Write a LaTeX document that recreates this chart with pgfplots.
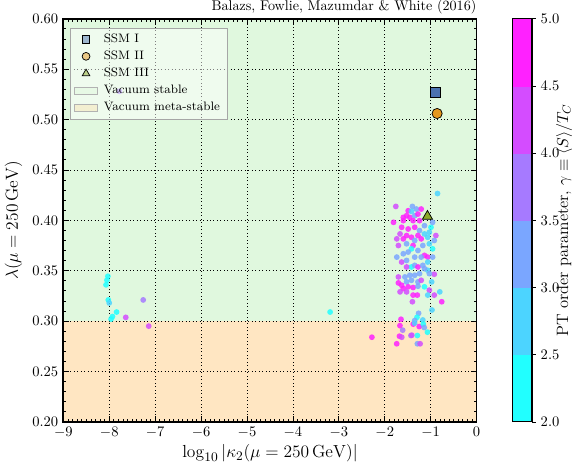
\documentclass[border=0pt]{standalone}
\usepackage{pgfplots}
\pgfplotsset{compat=1.18}
\usepackage{pgfplotstable}
\definecolor{vstable}{RGB}{224,248,222}
\definecolor{vmeta}{RGB}{255,230,194}
\definecolor{vmetaleg}{RGB}{248,228,182}
\definecolor{ssmone}{RGB}{76,114,176}
\definecolor{ssmtwo}{RGB}{228,150,30}
\definecolor{ssmthree}{RGB}{140,170,40}

\pgfplotstableread{
x y c
-0.851 0.4266 2.7
-1.759 0.4138 4.2
-1.398 0.4138 3.2
-1.312 0.4112 3.2
-1.206 0.4112 4.7
-1.490 0.4095 4.7
-1.419 0.4089 2.7
-1.596 0.4029 4.7
-1.525 0.4046 4.7
-1.454 0.4029 4.7
-1.348 0.4046 3.2
-1.277 0.4062 4.7
-1.809 0.3980 4.7
-1.596 0.3997 4.7
-1.383 0.3997 4.7
-1.242 0.3997 4.7
-1.135 0.3947 3.2
-0.993 0.3931 2.2
-0.958 0.3980 3.2
-1.632 0.3931 4.7
-1.490 0.3914 4.7
-1.348 0.3931 4.7
-1.242 0.3898 3.2
-0.887 0.3849 4.2
-1.667 0.3865 4.2
-1.525 0.3849 4.7
-1.419 0.3832 4.7
-1.277 0.3849 4.7
-1.135 0.3865 2.7
-1.029 0.3882 2.7
-0.922 0.3800 3.2
-1.738 0.3816 4.2
-1.596 0.3816 4.7
-1.348 0.3800 3.2
-1.206 0.3816 4.7
-1.064 0.3832 2.7
-1.703 0.3750 4.2
-1.525 0.3767 3.2
-1.383 0.3750 4.7
-1.171 0.3750 3.2
-1.029 0.3767 2.7
-0.958 0.3717 2.2
-1.419 0.3717 2.2
-1.596 0.3668 3.2
-1.490 0.3685 3.2
-1.277 0.3701 3.2
-1.135 0.3652 4.7
-1.064 0.3635 4.7
-0.958 0.3635 3.2
-1.738 0.3635 3.2
-1.632 0.3586 4.2
-1.525 0.3602 3.2
-1.348 0.3635 3.2
-1.206 0.3635 3.2
-1.419 0.3537 2.2
-1.348 0.3553 3.2
-1.277 0.3537 4.7
-1.171 0.3553 3.2
-1.064 0.3586 2.7
-1.525 0.3537 4.2
-1.064 0.3504 2.7
-1.135 0.3520 3.2
-0.922 0.3465 4.2
-1.029 0.3471 3.2
-1.703 0.3438 4.2
-1.561 0.3438 3.2
-1.454 0.3455 3.2
-1.348 0.3455 3.2
-1.242 0.3471 3.2
-1.525 0.3389 3.2
-1.419 0.3405 3.2
-1.277 0.3389 3.2
-1.206 0.3405 4.2
-1.135 0.3340 2.2
-0.979 0.3389 2.7
-1.703 0.3379 4.7
-1.632 0.3356 4.7
-1.596 0.3323 4.7
-1.490 0.3340 4.7
-1.383 0.3333 4.7
-1.277 0.3346 3.2
-1.667 0.3290 4.2
-1.525 0.3290 4.2
-1.029 0.3307 4.2
-0.922 0.3258 4.2
-0.802 0.3290 2.7
-1.383 0.3258 4.7
-1.291 0.3258 4.7
-1.064 0.3258 2.7
-1.398 0.3192 4.2
-0.759 0.3192 4.7
-0.972 0.3110 2.7
-1.263 0.3077 3.2
-1.298 0.3038 2.2
-1.646 0.3018 4.7
-1.348 0.3005 3.2
-1.171 0.3011 2.7
-2.280 0.2840 4.7
-1.670 0.2955 4.7
-1.610 0.2910 3.7
-1.680 0.2850 4.7
-1.630 0.2840 4.2
-1.740 0.2775 4.7
-1.430 0.2857 3.7
-1.410 0.2860 4.2
-1.380 0.2970 4.7
-1.350 0.2980 2.7
-1.250 0.2946 4.7
-1.290 0.2857 2.2
-1.290 0.2775 3.2
-1.230 0.2775 4.2
-1.160 0.2970 2.2
-1.140 0.2936 3.2
-1.070 0.2890 2.2
-8.030 0.3445 2.2
-8.050 0.3406 2.2
-8.070 0.3360 2.2
-8.020 0.3210 2.2
-8.000 0.3180 2.7
-7.840 0.3090 2.2
-7.930 0.3045 2.2
-7.960 0.3020 2.2
-7.640 0.3037 4.2
-7.260 0.3210 3.7
-7.140 0.2950 4.2
-3.190 0.3090 2.2
-7.780 0.5280 3.7
}\scan

\begin{document}
\begin{tikzpicture}
\begin{axis}[
  set layers=standard,
  clip mode=individual,
  width=284pt, height=277pt, scale only axis,
  xmin=-9, xmax=0, ymin=0.2, ymax=0.6,
  xtick={-9,-8,-7,-6,-5,-4,-3,-2,-1,0},
  ytick={0.20,0.25,0.30,0.35,0.40,0.45,0.50,0.55,0.60},
  yticklabel style={/pgf/number format/.cd, fixed, fixed zerofill, precision=2},
  minor x tick num=9, minor y tick num=4,
  tick align=inside, major tick length=4pt, minor tick length=2pt,
  tick style={black, line width=0.5pt},
  grid=major, major grid style={black, dotted, line width=0.5pt},
  axis line style={line width=1.2pt},
  xlabel={$\log_{10}|\kappa_2(\mu=250\,\mathrm{GeV})|$},
  ylabel={$\lambda(\mu=250\,\mathrm{GeV})$},
  label style={font=\fontsize{12.5}{15}\selectfont},
  xlabel style={yshift=2pt},
  colormap={pt}{rgb=(0.13,1,1) rgb=(0.30,0.83,1) rgb=(0.48,0.65,1) rgb=(0.65,0.48,1) rgb=(0.83,0.30,1) rgb=(1,0.13,1)},
  colormap access=piecewise constant,
  point meta min=2, point meta max=5,
  colorbar,
  colorbar style={
    width=13.5pt, at={(parent axis.north east)}, anchor=north west, xshift=16pt,
    ytick={2,2.5,3,3.5,4,4.5,5},
    yticklabel style={/pgf/number format/.cd, fixed, fixed zerofill, precision=1},
    ylabel={PT order parameter, $\gamma\equiv\langle S\rangle/T_C$},
    ylabel style={font=\fontsize{11.3}{13}\selectfont},
    ylabel shift=-9pt,
    axis line style={line width=0.8pt},
    tick align=outside, major tick length=2.5pt, ytick pos=right,
  },
  legend style={at={(0.015,0.978)}, anchor=north west, draw=gray!70, fill=white,
    fill opacity=0.5, text opacity=1, draw opacity=1,
    font=\fontsize{8.4}{9.2}\selectfont,
    row sep=0.4pt, cells={anchor=west},
    /tikz/every odd column/.append style={column sep=2pt}},
]
\addplot[draw=none, fill=vstable, on layer=axis background, forget plot]
  coordinates {(-9,0.3) (0,0.3) (0,0.6) (-9,0.6)} -- cycle;
\addplot[draw=none, fill=vmeta, on layer=axis background, forget plot]
  coordinates {(-9,0.2) (0,0.2) (0,0.3) (-9,0.3)} -- cycle;

\addplot[scatter, only marks, mark=*, mark size=2pt, scatter src=explicit,
  scatter/use mapped color={draw=mapped color, fill=mapped color, draw opacity=0, fill opacity=0.85},
  forget plot] table[x=x, y=y, meta=c] {\scan};

\addplot[only marks, mark=square*, mark size=3.4pt, mark options={fill=ssmone, draw=black, line width=0.5pt}, forget plot]
  coordinates {(-0.90,0.527)};
\addplot[only marks, mark=*, mark size=3.5pt, mark options={fill=ssmtwo, draw=black, line width=0.5pt}, forget plot]
  coordinates {(-0.86,0.506)};
\addplot[only marks, mark=triangle*, mark size=4pt, mark options={fill=ssmthree, draw=black, line width=0.5pt}, forget plot]
  coordinates {(-1.07,0.404)};

\addlegendimage{only marks, mark=square*, mark size=2.6pt, mark options={fill=ssmone, draw=black, line width=0.5pt}}
\addlegendentry{SSM I}
\addlegendimage{only marks, mark=*, mark size=2.7pt, mark options={fill=ssmtwo, draw=black, line width=0.5pt}}
\addlegendentry{SSM II}
\addlegendimage{only marks, mark=triangle*, mark size=3pt, mark options={fill=ssmthree, draw=black, line width=0.5pt}}
\addlegendentry{SSM III}
\addlegendimage{legend image code/.code={\draw[fill=vstable, draw=gray!60] (0.02cm,-0.09cm) rectangle (0.58cm,0.09cm);}}
\addlegendentry{Vacuum stable}
\addlegendimage{legend image code/.code={\draw[fill=vmetaleg, draw=gray!60] (0.02cm,-0.09cm) rectangle (0.58cm,0.09cm);}}
\addlegendentry{Vacuum meta-stable}

\node[anchor=south east, font=\fontsize{9.7}{12}\selectfont, inner sep=0pt, yshift=3pt] at (rel axis cs:1,1) {Balazs, Fowlie, Mazumdar \& White (2016)};
\end{axis}
\end{tikzpicture}
\end{document}
